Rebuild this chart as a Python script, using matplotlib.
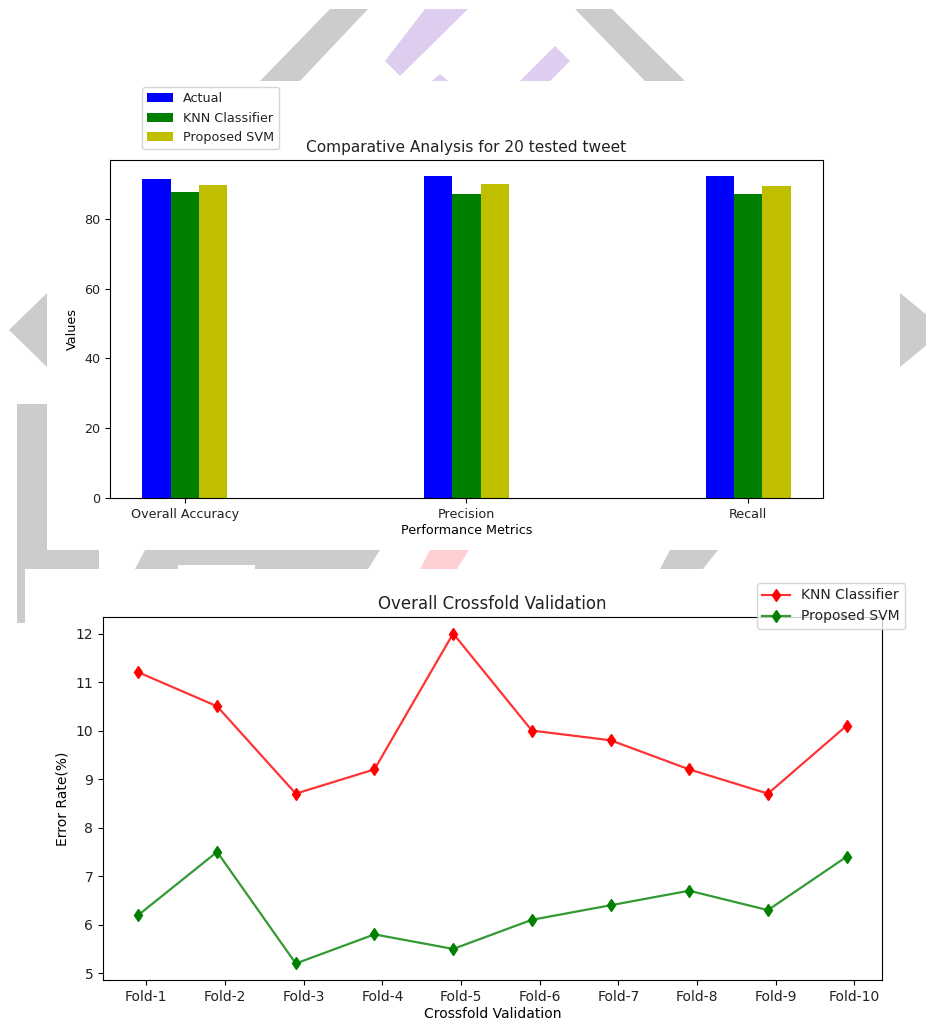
import numpy as np
import matplotlib
matplotlib.use("Agg")
import matplotlib.pyplot as plt
from matplotlib.patches import Polygon

# bar chart data
metrics = ["Overall Accuracy", "Precision", "Recall"]
actual = [91.5, 92.3, 92.3]
knn_scores = [87.6, 87.3, 87.3]
svm_scores = [89.8, 90.1, 89.4]

# crossfold error rates (%)
folds = ["Fold-1", "Fold-2", "Fold-3", "Fold-4", "Fold-5",
         "Fold-6", "Fold-7", "Fold-8", "Fold-9", "Fold-10"]
knn_err = [11.2, 10.5, 8.7, 9.2, 12.0, 10.0, 9.8, 9.2, 8.7, 10.1]
svm_err = [6.2, 7.5, 5.2, 5.8, 5.5, 6.1, 6.4, 6.7, 6.3, 7.4]

W, H = 926, 1033
fig = plt.figure(figsize=(W / 100, H / 100), dpi=100)
plt.rcParams["text.color"] = "#222222"
plt.rcParams["xtick.labelcolor"] = "#222222"
plt.rcParams["ytick.labelcolor"] = "#222222"


def shape(pts, color):
    # pixel coords (origin top-left) -> figure fraction
    xy = [(x / W, 1 - y / H) for x, y in pts]
    fig.patches.append(Polygon(xy, closed=True, transform=fig.transFigure,
                               facecolor=color, edgecolor="none", zorder=-3))


# background page decoration
gray = "#cccccc"
purple = "#dfcdf0"
pink = "#ffd0d3"
shape([(330, 9), (368, 9), (300, 81), (260, 81)], gray)
shape([(575, 9), (612, 9), (685, 81), (645, 81)], gray)
shape([(425, 9), (468, 9), (400, 76), (385, 61)], purple)
shape([(432, 81), (440, 74), (448, 81)], purple)
shape([(555, 46), (570, 61), (550, 81), (520, 81)], purple)
shape([(9, 330), (47, 293), (47, 367)], gray)
shape([(900, 293), (945, 330), (900, 367)], gray)
shape([(17, 404), (47, 404), (47, 550), (99, 550), (99, 569),
       (25, 569), (25, 623), (17, 623)], gray)
shape([(145, 550), (380, 550), (368, 569), (255, 569), (255, 565),
       (178, 565), (178, 569), (135, 569)], gray)
shape([(430, 550), (469, 550), (457, 569), (420, 569)], pink)
shape([(670, 550), (718, 550), (703, 569), (660, 569)], gray)

# --- comparative bar chart ---
fs1 = 9.2
ax1 = fig.add_axes([110 / W, 1 - 498 / H, 713 / W, 338 / H])
x = np.arange(len(metrics))
w = 0.1
ax1.bar(x, actual, w, color="b", label="Actual")
ax1.bar(x + w, knn_scores, w, color="g", label="KNN Classifier")
ax1.bar(x + 2 * w, svm_scores, w, color="y", label="Proposed SVM")
ax1.set_xticks(x + w, metrics)
ax1.tick_params(labelsize=fs1)
ax1.set_xlabel("Performance Metrics", fontsize=fs1, labelpad=2)
ax1.set_ylabel("Values", fontsize=fs1)
ax1.set_title("Comparative Analysis for 20 tested tweet", fontsize=fs1 * 1.2)
ax1.legend(loc="upper left", bbox_to_anchor=(0.045, 1.215),
           borderaxespad=0, fontsize=fs1)

# --- crossfold validation line chart ---
fs2 = 10
ax2 = fig.add_axes([103 / W, 1 - 980 / H, 779 / W, 363 / H])
xf = np.arange(len(folds))
ax2.plot(xf, knn_err, color=(1, 0, 0, 0.8), marker="d", markersize=6,
         markerfacecolor="red", markeredgecolor="red", lw=1.6,
         label="KNN Classifier")
ax2.plot(xf, svm_err, color=(0, 0.5, 0, 0.8), marker="d", markersize=6,
         markerfacecolor="green", markeredgecolor="green", lw=1.6,
         label="Proposed SVM")
ax2.set_xticks(xf + 0.1, folds)
ax2.tick_params(labelsize=fs2)
ax2.set_xlabel("Crossfold Validation", fontsize=fs2, labelpad=2)
ax2.set_ylabel("Error Rate(%)", fontsize=fs2)
ax2.set_title("Overall Crossfold Validation", fontsize=fs2 * 1.2)
ax2.legend(loc="upper right", bbox_to_anchor=(1.03, 1.094),
           borderaxespad=0, fontsize=fs2)

fig.savefig("out.png", dpi=100)
